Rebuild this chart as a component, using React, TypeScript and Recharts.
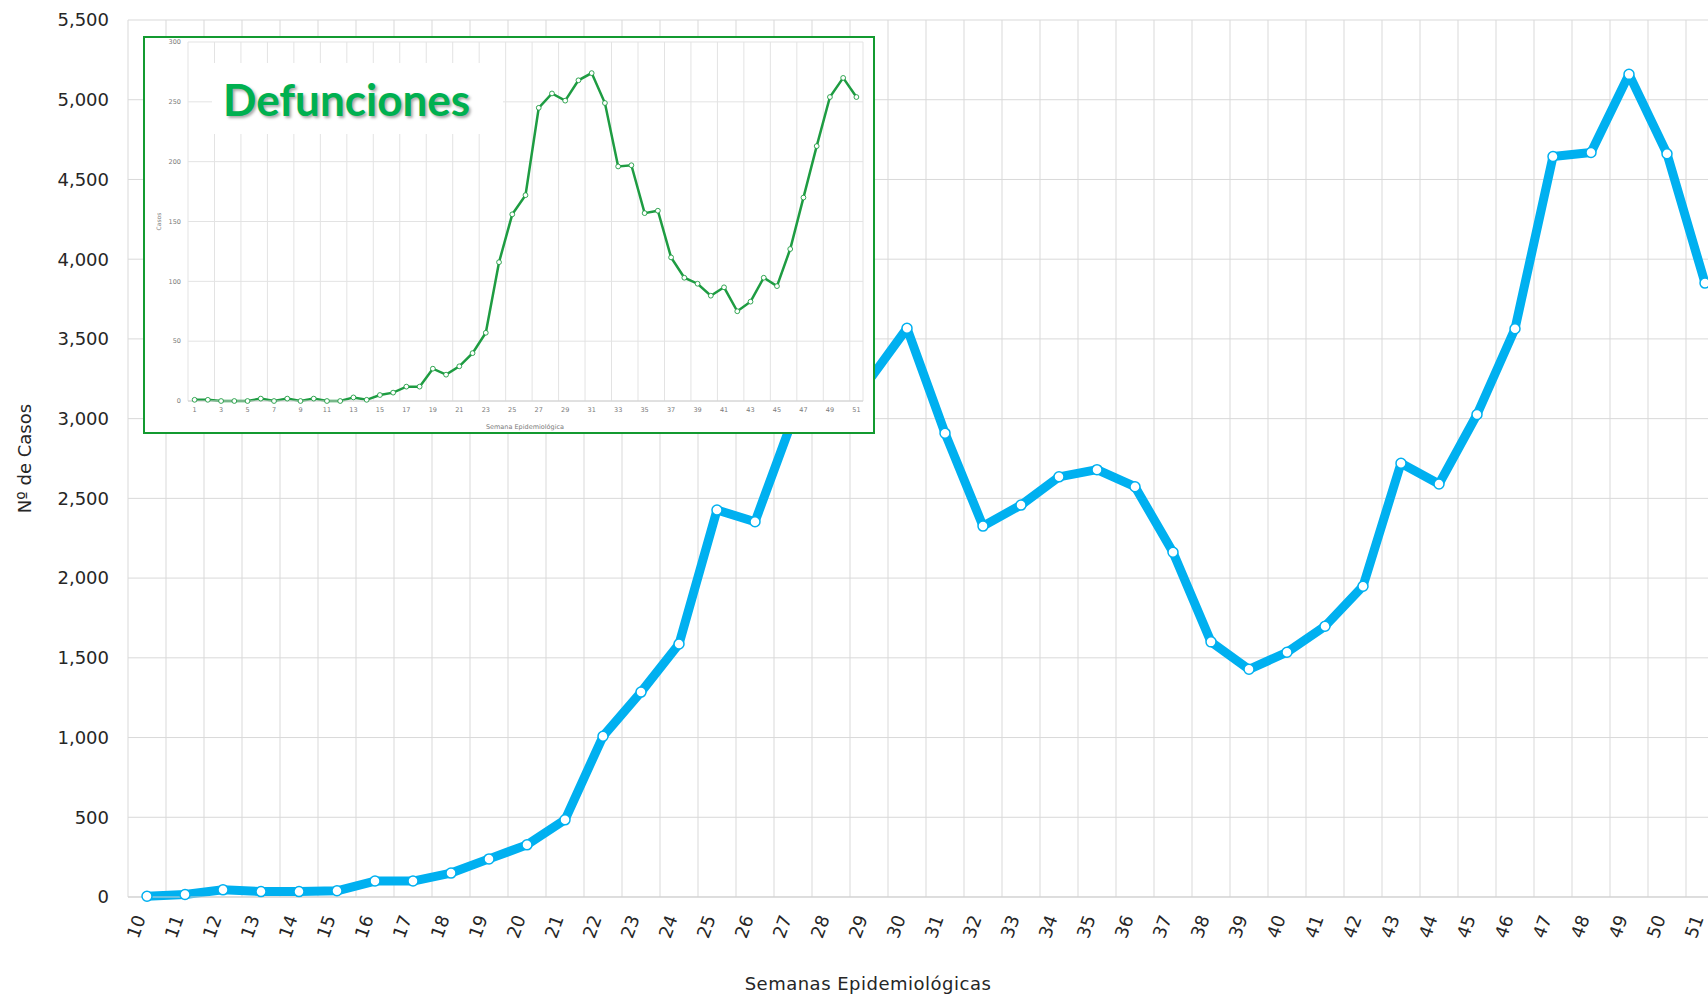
import React from 'react';
import { LineChart, Line, XAxis, YAxis, CartesianGrid } from 'recharts';

// casos semanales (semanas 10 a 51)
const semanas = [
  '10', '11', '12', '13', '14', '15', '16', '17', '18', '19', '20', '21', '22', '23',
  '24', '25', '26', '27', '28', '29', '30', '31', '32', '33', '34', '35', '36', '37',
  '38', '39', '40', '41', '42', '43', '44', '45', '46', '47', '48', '49', '50', '51',
];
const casos = [
  5, 16, 45, 34, 34, 39, 100, 100, 150, 239, 327, 484, 1008, 1285,
  1587, 2427, 2353, 3000, 3150, 3240, 3567, 2909, 2326, 2458, 2635, 2680, 2573, 2162,
  1600, 1428, 1535, 1698, 1949, 2720, 2590, 3026, 3564, 4644, 4669, 5159, 4661, 3850,
];
const casosTicks = [0, 500, 1000, 1500, 2000, 2500, 3000, 3500, 4000, 4500, 5000, 5500];

// defunciones semanales (semanas 1 a 51)
const semanasDef = [
  '1', '2', '3', '4', '5', '6', '7', '8', '9', '10', '11', '12', '13', '14', '15', '16', '17',
  '18', '19', '20', '21', '22', '23', '24', '25', '26', '27', '28', '29', '30', '31', '32', '33', '34',
  '35', '36', '37', '38', '39', '40', '41', '42', '43', '44', '45', '46', '47', '48', '49', '50', '51',
];
const defunciones = [
  1, 1, 0, 0, 0, 2, 0, 2, 0, 2, 0, 0, 3, 1, 5, 7, 12,
  12, 27, 22, 29, 40, 57, 116, 156, 172, 245, 257, 251, 268, 274, 249, 196, 197,
  157, 159, 120, 103, 98, 88, 95, 75, 83, 103, 96, 127, 170, 213, 254, 270, 254,
];
const defTicks = [0, 50, 100, 150, 200, 250, 300];

const casosData = semanas.map((s, i) => ({ semana: s, casos: casos[i] }));
const defData = semanasDef.map((s, i) => ({ semana: s, def: defunciones[i] }));

const FONT = '"DejaVu Sans", sans-serif';
const BLUE = '#00b0f0';
const GREEN = '#1e9c42';

// grid lines between categories (Excel style "between tick marks")
const makeBandGrid = (count: number, step: number, chartW: number) => (props: any) => {
  const off = props.offset || {};
  const left = off.left ?? 0;
  const w = off.width ?? chartW - left - (off.right ?? 0);
  const band = w / count;
  const pts: number[] = [];
  for (let i = 0; i <= count; i += step) pts.push(left + i * band);
  pts.push(left + w);
  return pts;
};

const SemanaTick = (props: any) => {
  const { x, y, payload } = props;
  return (
    <g transform={`translate(${x - 1},${y + 21})`}>
      <text textAnchor="end" transform="rotate(-70)" fontSize={18} fontFamily={FONT} fill="#262626">
        {payload.value}
      </text>
    </g>
  );
};

const App: React.FC = () => {
  return (
    <div style={{ position: 'relative', width: 1708, height: 994, overflow: 'hidden', background: '#fff' }}>
      <style>{'html,body{margin:0;padding:0;overflow:hidden;background:#fff}'}</style>

      <div style={{ position: 'absolute', left: 0, top: 0 }}>
        <LineChart width={1734} height={994} data={casosData} margin={{ top: 20, right: 10, left: 0, bottom: 0 }}>
          <CartesianGrid
            stroke="#d9d9d9"
            verticalCoordinatesGenerator={makeBandGrid(casos.length, 1, 1734)}
          />
          <XAxis
            dataKey="semana"
            interval={0}
            height={97}
            padding={{ left: 19, right: 19 }}
            tickLine={false}
            tickSize={0}
            tickMargin={0}
            axisLine={{ stroke: '#cfcfcf' }}
            tick={<SemanaTick />}
          />
          <YAxis
            width={128}
            domain={[0, 5500]}
            ticks={casosTicks}
            axisLine={false}
            tickLine={false}
            tickSize={0}
            tickMargin={19}
            tickFormatter={(v: number) => v.toLocaleString('en-US')}
            tick={{ fontSize: 18, fontFamily: FONT, fill: '#262626' }}
          />
          <Line
            type="linear"
            dataKey="casos"
            stroke={BLUE}
            strokeWidth={9}
            strokeLinejoin="round"
            dot={{ r: 5, fill: '#fff', stroke: BLUE, strokeWidth: 1.5 }}
            isAnimationActive={false}
          />
        </LineChart>
      </div>

      <div
        style={{
          position: 'absolute', left: 0, top: 458, width: 50, height: 0,
          display: 'flex', alignItems: 'center', justifyContent: 'center',
        }}
      >
        <div style={{ transform: 'rotate(-90deg)', whiteSpace: 'nowrap', fontFamily: FONT, fontSize: 18, color: '#262626' }}>
          Nº de Casos
        </div>
      </div>
      <div
        style={{
          position: 'absolute', left: 568, width: 600, top: 971, textAlign: 'center',
          fontFamily: FONT, fontSize: 18, color: '#262626', lineHeight: '26px', letterSpacing: 0.5,
        }}
      >
        Semanas Epidemiológicas
      </div>

      {/* inset: defunciones */}
      <div style={{ position: 'absolute', left: 143, top: 36, width: 732, height: 398, background: '#fff' }}>
        <LineChart width={732} height={398} data={defData} margin={{ top: 6, right: 12, left: 0, bottom: 0 }}>
          <CartesianGrid
            stroke="#e3e3e3"
            verticalCoordinatesGenerator={makeBandGrid(defunciones.length, 2, 732)}
          />
          <XAxis
            dataKey="semana"
            interval={1}
            height={33}
            padding={{ left: 6.6, right: 6.6 }}
            tickLine={false}
            tickSize={0}
            tickMargin={6}
            axisLine={{ stroke: '#d0d0d0' }}
            tick={{ fontSize: 6.5, fontFamily: FONT, fill: '#7a7a7a' }}
          />
          <YAxis
            width={45}
            domain={[0, 300]}
            ticks={defTicks}
            axisLine={false}
            tickLine={false}
            tickSize={0}
            tickMargin={7}
            tick={{ fontSize: 6.5, fontFamily: FONT, fill: '#7a7a7a' }}
          />
          <Line
            type="linear"
            dataKey="def"
            stroke={GREEN}
            strokeWidth={2.5}
            dot={{ r: 2.4, fill: '#fff', stroke: GREEN, strokeWidth: 0.9 }}
            isAnimationActive={false}
          />
        </LineChart>
        <div
          style={{
            position: 'absolute', left: 6, top: 185, width: 20, height: 0,
            display: 'flex', alignItems: 'center', justifyContent: 'center',
          }}
        >
          <div style={{ transform: 'rotate(-90deg)', fontFamily: FONT, fontSize: 6, color: '#7a7a7a' }}>Casos</div>
        </div>
        <div
          style={{
            position: 'absolute', left: 282, width: 200, top: 386, textAlign: 'center',
            fontFamily: FONT, fontSize: 6.5, color: '#7a7a7a', lineHeight: '10px',
          }}
        >
          Semana Epidemiológica
        </div>
        <div
          style={{
            position: 'absolute', left: 69, top: 27, width: 291, height: 71, background: '#fff',
            display: 'flex', alignItems: 'center',
          }}
        >
          <span
            style={{
              marginLeft: 11, fontFamily: 'Lato, sans-serif', fontWeight: 700, fontSize: 44, color: '#00b050',
              textShadow: '2px 2px 3px rgba(0,0,0,0.35)', lineHeight: '50px',
            }}
          >
            Defunciones
          </span>
        </div>
        <div
          style={{
            position: 'absolute', left: 0, top: 0, width: 732, height: 398, boxSizing: 'border-box',
            border: '2px solid #139a30', pointerEvents: 'none',
          }}
        />
      </div>
    </div>
  );
};

export default App;
